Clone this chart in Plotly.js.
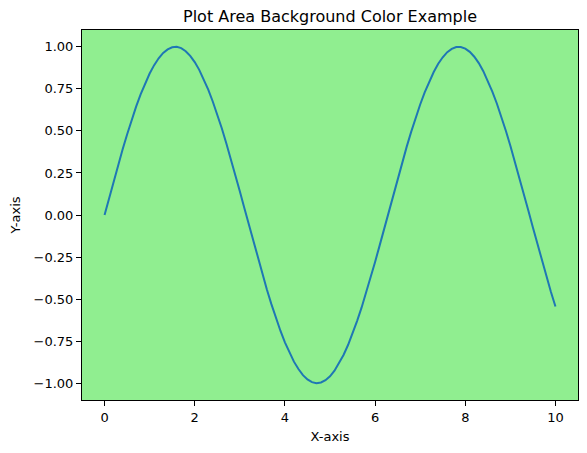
<!DOCTYPE html>
<html>
<head>
<meta charset="utf-8">
<script src="https://cdn.plot.ly/plotly-3.0.1.min.js"></script>
<style>
  html, body { margin: 0; padding: 0; background: #fff; }
  #chart { width: 587px; height: 453px; }
</style>
</head>
<body>
<div id="chart"></div>
<script>
// Values, every 0.1 along x
const xValues = [
  0, 0.1, 0.2, 0.3, 0.4, 0.5, 0.6, 0.7, 0.8, 0.9,
  1, 1.1, 1.2, 1.3, 1.4, 1.5, 1.6, 1.7, 1.8, 1.9,
  2, 2.1, 2.2, 2.3, 2.4, 2.5, 2.6, 2.7, 2.8, 2.9,
  3, 3.1, 3.2, 3.3, 3.4, 3.5, 3.6, 3.7, 3.8, 3.9,
  4, 4.1, 4.2, 4.3, 4.4, 4.5, 4.6, 4.7, 4.8, 4.9,
  5, 5.1, 5.2, 5.3, 5.4, 5.5, 5.6, 5.7, 5.8, 5.9,
  6, 6.1, 6.2, 6.3, 6.4, 6.5, 6.6, 6.7, 6.8, 6.9,
  7, 7.1, 7.2, 7.3, 7.4, 7.5, 7.6, 7.7, 7.8, 7.9,
  8, 8.1, 8.2, 8.3, 8.4, 8.5, 8.6, 8.7, 8.8, 8.9,
  9, 9.1, 9.2, 9.3, 9.4, 9.5, 9.6, 9.7, 9.8, 9.9,
  10
];
const yValues = [
  0.000, 0.100, 0.199, 0.296, 0.389, 0.479, 0.565, 0.644, 0.717, 0.783,
  0.841, 0.891, 0.932, 0.964, 0.985, 0.997, 1.000, 0.992, 0.974, 0.946,
  0.909, 0.863, 0.808, 0.746, 0.675, 0.598, 0.516, 0.427, 0.335, 0.239,
  0.141, 0.042, -0.058, -0.158, -0.256, -0.351, -0.443, -0.530, -0.612, -0.688,
  -0.757, -0.818, -0.872, -0.916, -0.952, -0.978, -0.994, -1.000, -0.996, -0.982,
  -0.959, -0.926, -0.883, -0.832, -0.773, -0.706, -0.631, -0.551, -0.465, -0.374,
  -0.279, -0.182, -0.083, 0.017, 0.117, 0.215, 0.312, 0.405, 0.494, 0.578,
  0.657, 0.729, 0.794, 0.850, 0.899, 0.938, 0.968, 0.988, 0.999, 0.999,
  0.989, 0.970, 0.941, 0.903, 0.855, 0.798, 0.734, 0.663, 0.585, 0.501,
  0.412, 0.319, 0.223, 0.124, 0.025, -0.075, -0.175, -0.272, -0.366, -0.458,
  -0.544
];
const xTicks = [0, 2, 4, 6, 8, 10];
const yTicks = [-1, -0.75, -0.5, -0.25, 0, 0.25, 0.5, 0.75, 1];

const FONT = 'DejaVu Sans, sans-serif';

const trace = {
  type: 'scatter',
  mode: 'lines',
  x: xValues,
  y: yValues,
  line: { color: '#1f77b4', width: 2 },
  hoverinfo: 'skip',
};

const axisBase = {
  showline: true,
  mirror: true,
  linecolor: '#000',
  linewidth: 1,
  showgrid: false,
  zeroline: false,
  ticks: 'outside',
  ticklen: 5,
  tickwidth: 1,
  tickcolor: '#000',
  tickfont: { family: FONT, size: 13, color: '#000' },
};

const layout = {
  width: 587,
  height: 453,
  paper_bgcolor: '#fff',
  plot_bgcolor: '#90ee90',
  font: { family: FONT, color: '#000' },
  margin: { l: 82, r: 9, t: 30, b: 53 },
  showlegend: false,
  title: {
    text: 'Plot Area Background Color Example',
    font: { family: FONT, size: 16, color: '#000' },
    x: 0.5, xref: 'paper', xanchor: 'center',
    y: 1, yref: 'paper', yanchor: 'bottom', pad: { b: 8 },
  },
  xaxis: {
    ...axisBase,
    range: [-0.5, 10.5],
    tickvals: xTicks,
    title: { text: 'X-axis', font: { family: FONT, size: 13, color: '#000' }, standoff: 8 },
  },
  yaxis: {
    ...axisBase,
    range: [-1.1, 1.1],
    tickvals: yTicks,
    tickformat: '.2f',
    title: { text: 'Y-axis', font: { family: FONT, size: 13, color: '#000' }, standoff: 10 },
  },
};

Plotly.newPlot('chart', [trace], layout, { displayModeBar: false, staticPlot: true });
</script>
</body>
</html>
